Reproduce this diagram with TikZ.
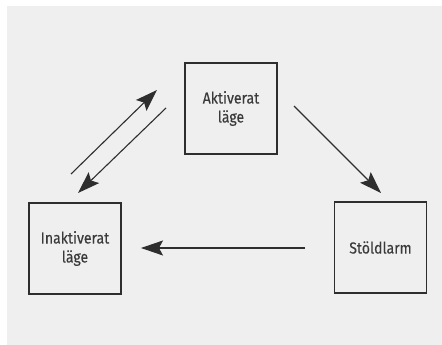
\documentclass[tikz,border=0pt]{standalone}
\usepackage{fontspec}
\setmainfont{Fira Sans}[FakeStretch=0.88,FakeBold=0.2]
\usetikzlibrary{arrows.meta}
\definecolor{bg}{HTML}{EFEFEF}
\definecolor{ink}{HTML}{2E2E2E}
\definecolor{txt}{HTML}{3A3A3A}
\begin{document}
\begin{tikzpicture}[x=1pt,y=-1pt,
  statebox/.style={draw=ink,line width=1.3pt,minimum width=92pt,minimum height=91pt,inner sep=0pt,
    align=center,text=txt,font=\fontsize{16}{19}\selectfont},
  conn/.style={draw=ink,line width=1.1pt,-{Stealth[length=22pt,width=15pt,inset=4pt]}}]
\useasboundingbox (0,0) rectangle (442,345);
\fill[white] (0,0) rectangle (442,345);
\fill[bg] (7,6) rectangle (442,345);
\node[statebox] (akt) at (231,108.5) {Aktiverat\\läge};
\node[statebox] (inak) at (75,248.5) {Inaktiverat\\läge};
\node[statebox] (stold) at (380.5,247.5) {Stöldlarm};
\coordinate (upS) at (71,174);
\coordinate (upE) at (157,90);
\coordinate (dnS) at (166,108);
\coordinate (dnE) at (78,193);
\coordinate (asS) at (294,106);
\coordinate (asE) at (381,193);
\coordinate (siS) at (305,248);
\coordinate (siE) at (141,248);
\draw[conn] (upS) -- (upE);
\draw[conn] (dnS) -- (dnE);
\draw[conn] (asS) -- (asE);
\draw[conn] (siS) -- (siE);
\end{tikzpicture}
\end{document}
